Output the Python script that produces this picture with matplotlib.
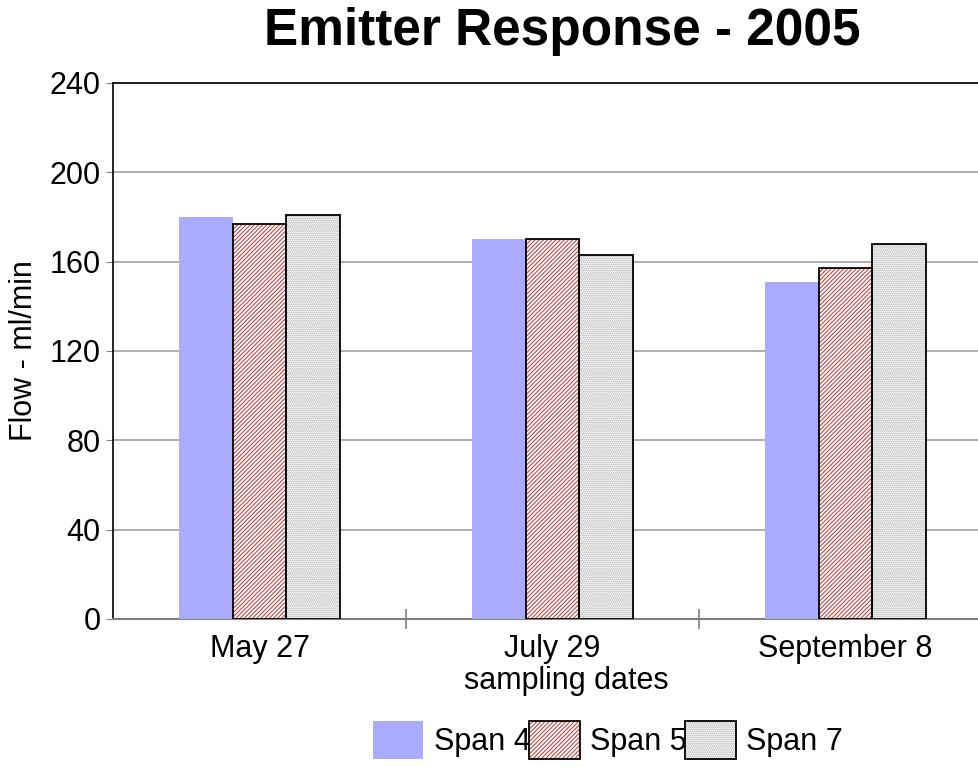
import matplotlib
matplotlib.use("Agg")
import matplotlib.pyplot as plt
import numpy as np
from matplotlib.patches import Patch

categories = ["May 27", "July 29", "September 8"]
span4 = [180, 170, 151]
span5 = [177, 170, 157]
span7 = [181, 163, 168]
series_names = ["Span 4", "Span 5", "Span 7"]
yticks = [0, 40, 80, 120, 160, 200, 240]

plt.rcParams['font.family'] = ['Liberation Sans', 'DejaVu Sans']
plt.rcParams['hatch.linewidth'] = 0.85

FS = 22
RED = "#C05050"
GRAY = "#AAAAAA"

fig = plt.figure(figsize=(9.79, 7.67), dpi=100)
ax = fig.add_axes([113/979, (767-619)/767, (992-113)/979, (619-83)/767])

x = np.arange(len(categories))
w = 0.184

ax.bar(x - w, span4, w, color="#AAAAFF", edgecolor="none", zorder=3)
ax.bar(x, span5, w, facecolor="white", edgecolor=RED, hatch="////////", linewidth=0, zorder=3)
ax.bar(x, span5, w, facecolor="none", edgecolor="black", linewidth=1.3, zorder=4)
ax.bar(x + w, span7, w, facecolor="white", edgecolor=GRAY, hatch="........", linewidth=0, zorder=3)
ax.bar(x + w, span7, w, facecolor="none", edgecolor="black", linewidth=1.3, zorder=4)

ax.set_xlim(-0.5, 2.5)
ax.set_ylim(0, 240)
ax.set_yticks(yticks)
ax.set_yticklabels([str(v) for v in yticks], fontsize=FS)
ax.yaxis.grid(True, color="#A0A0A0", linewidth=1.2, zorder=0)
ax.set_axisbelow(True)
ax.tick_params(axis='y', direction='out', length=5, color="#808080", pad=4)

ax.set_xticks(x)
ax.set_xticklabels(categories, fontsize=FS)
ax.tick_params(axis='x', which='major', length=0, pad=11)
ax.set_xticks([0.5, 1.5], minor=True)
ax.tick_params(axis='x', which='minor', direction='inout', length=14, color="#808080", width=1.2)

for s in ['top', 'left']:
    ax.spines[s].set_color("black")
    ax.spines[s].set_linewidth(1.2)
ax.spines['bottom'].set_color("#808080")
ax.spines['bottom'].set_linewidth(1.5)
ax.spines['right'].set_visible(False)

ax.set_ylabel("Flow - ml/min", fontsize=FS, va='center')
ax.yaxis.set_label_coords(-(113-24)/(992-113), (619-351)/(619-83))
ax.set_xlabel("sampling dates", fontsize=FS)
ax.xaxis.set_label_coords((566-113)/(992-113), -(681-619)/(619-83))
ax.xaxis.label.set_va('center')

fig.text(562/979, 1 - 32/767, "Emitter Response - 2005", fontsize=37, fontweight='bold', ha='center', va='center')

h4 = Patch(facecolor="#AAAAFF", edgecolor="none")
h5 = (Patch(facecolor="white", edgecolor=RED, hatch="////////", linewidth=0),
      Patch(facecolor="none", edgecolor="black", linewidth=1.3))
h7 = (Patch(facecolor="white", edgecolor=GRAY, hatch="........", linewidth=0),
      Patch(facecolor="none", edgecolor="black", linewidth=1.3))
leg = fig.legend([h4, h5, h7], series_names, loc='center', bbox_to_anchor=(608/979, 1 - 740/767),
                 ncol=3, frameon=False, fontsize=FS, handlelength=1.65, handleheight=1.55,
                 handletextpad=0.35, columnspacing=-0.05, borderpad=0)

fig.savefig("out.png", dpi=100)
